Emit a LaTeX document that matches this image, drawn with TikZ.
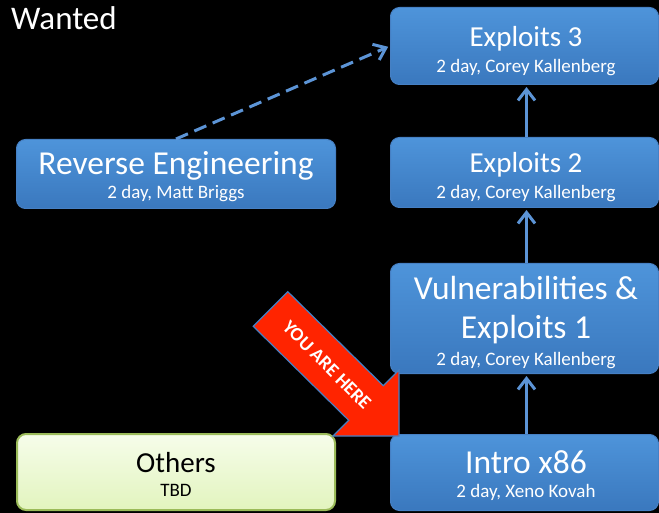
\documentclass[tikz,border=0pt]{standalone}
\usepackage{fontspec}
\setmainfont{Carlito}
\usetikzlibrary{arrows.meta}
\definecolor{boxtop}{RGB}{78,148,218}
\definecolor{boxbot}{RGB}{58,120,190}
\definecolor{boxedge}{RGB}{70,128,196}
\definecolor{grntop}{RGB}{246,253,234}
\definecolor{grnbot}{RGB}{226,244,190}
\definecolor{grnedge}{RGB}{155,187,89}
\definecolor{conncol}{RGB}{92,148,214}
\definecolor{herered}{RGB}{255,36,0}
\begin{document}
\begin{tikzpicture}[x=1pt,y=-1pt,
  bluebox/.style={rectangle, rounded corners=9pt, draw=boxedge, line width=1pt,
    top color=boxtop, bottom color=boxbot, inner sep=0pt, anchor=north west},
  greenbox/.style={rectangle, rounded corners=9pt, draw=grnedge, line width=2pt,
    top color=grntop, bottom color=grnbot, inner sep=0pt, anchor=north west},
  titletext/.style={inner sep=0pt, anchor=base, text=white, font=\fontsize{29}{32}\selectfont},
  bigtitle/.style={titletext, font=\fontsize{33.5}{36}\selectfont},
  subtext/.style={inner sep=0pt, anchor=base, text=white, font=\fontsize{19}{21}\selectfont},
  conn/.style={draw=conncol, line width=3pt, shorten >=2pt,
    -{Straight Barb[length=11pt,width=17pt,line width=3pt]}}
]
\fill[black] (0,0) rectangle (659,513);
\useasboundingbox (0,0) rectangle (659,513);

% boxes
\node[bluebox, minimum width=268pt, minimum height=77pt] (e3) at (390,7) {};
\node[bluebox, minimum width=268pt, minimum height=70pt] (e2) at (390,137) {};
\node[bluebox, minimum width=268pt, minimum height=110pt] (v1) at (390,263) {};
\node[bluebox, minimum width=268pt, minimum height=76pt] (ix) at (390,434) {};
\node[bluebox, minimum width=319pt, minimum height=69pt] (re) at (16,139) {};
\node[greenbox, minimum width=318pt, minimum height=76pt] (ot) at (16,433) {};

% texts
\node[anchor=base west, inner sep=0pt, text=white, font=\fontsize{33}{36}\selectfont] (wanted) at (11,30) {Wanted};

\node[titletext] (e3t) at (526,46.7) {Exploits 3};
\node[subtext] (e3s) at (526,72.3) {2 day, Corey Kallenberg};
\node[titletext] (e2t) at (526,172.3) {Exploits 2};
\node[subtext] (e2s) at (526,198.3) {2 day, Corey Kallenberg};
\node[bigtitle] (v1a) at (526,299.3) {Vulnerabilities \&};
\node[bigtitle] (v1b) at (526,338.3) {Exploits 1};
\node[subtext] (v1s) at (526,365) {2 day, Corey Kallenberg};
\node[bigtitle] (ixt) at (526,473.3) {Intro x86};
\node[subtext] (ixs) at (526,497.3) {2 day, Xeno Kovah};
\node[bigtitle] (ret) at (176,175) {Reverse Engineering};
\node[subtext] (res) at (176,198.3) {2 day, Matt Briggs};
\node[titletext, text=black] (ott) at (176,472.7) {Others};
\node[subtext, text=black] (ots) at (176,496.7) {TBD};

% connectors
\draw[conn] ([xshift=2pt]ix.north) -- ([xshift=2pt]v1.south);
\draw[conn] ([xshift=2pt]v1.north) -- ([xshift=2pt]e2.south);
\draw[conn] ([xshift=2pt]e2.north) -- ([xshift=2pt]e3.south);
\draw[conn, dash pattern=on 13pt off 7pt] (re.north) -- (e3.west);

% you are here arrow
\filldraw[fill=herered, draw=boxedge, line width=1.2pt, line join=miter]
  (287.8,291.7) -- (383.3,385.7) -- (399,370) -- (399,436) -- (333,436)
  -- (348.7,420.3) -- (253.2,326.3) -- cycle;
\node[inner sep=0pt, text=white, rotate=-45, font=\bfseries\fontsize{19}{21}\selectfont] (here) at (327,365) {YOU ARE HERE};
\end{tikzpicture}
\end{document}
